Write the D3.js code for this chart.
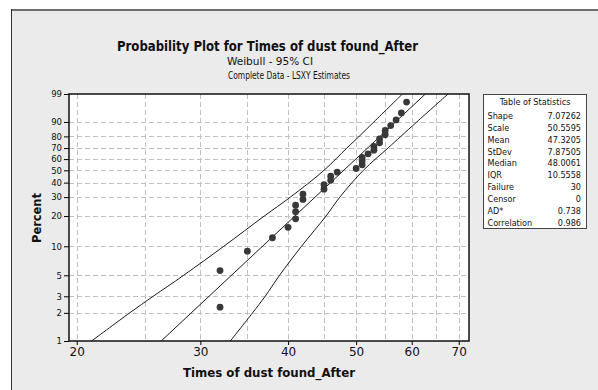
<!DOCTYPE html>
<html>
<head>
<meta charset="utf-8">
<script src="https://cdn.jsdelivr.net/npm/d3@7"></script>
<style>
  body { margin: 0; background: #fff; }
  svg { display: block; }
  .axis path, .axis line { stroke: #000; }
  .ytick text { font-family: "DejaVu Sans"; font-size: 8.5px; fill: #111; }
  .xtick text { font-family: "DejaVu Sans"; font-size: 12px; fill: #111; }
</style>
</head>
<body>
<svg id="chart" width="598" height="390"></svg>
<script>
// Data points (time, median rank percent)
var times = [32, 32, 35, 38, 40, 41, 41, 41, 42, 42, 45, 45, 46, 46, 47,
             50, 51, 51, 51, 52, 53, 53, 54, 54, 55, 55, 56, 57, 58, 59];
var percents = [2.3, 5.6, 8.9, 12.2, 15.5, 18.8, 22.0, 25.3, 28.6, 31.9, 35.2, 38.5, 41.8, 45.1, 48.4,
                51.6, 54.9, 58.2, 61.5, 64.8, 68.1, 71.4, 74.7, 78.0, 81.3, 84.5, 87.8, 91.1, 94.4, 97.7];

// 95% CI bands
var ciPercent = [1, 2, 3, 5, 10, 20, 30, 50, 70, 80, 90, 99];
var ciLower = [21.0, 23.8, 25.7, 28.4, 32.4, 37.0, 40.3, 45.0, 48.5, 50.5, 53.0, 58.2];
var ciUpper = [33.1, 35.6, 37.1, 38.9, 41.8, 45.3, 47.4, 51.2, 55.5, 57.9, 61.0, 67.6];

// Fitted Weibull
var shape = 7.07262, scale = 50.5595;
var fitPercent = [1, 99];

// Axis ticks
var yTicks = [1, 2, 3, 5, 10, 20, 30, 40, 50, 60, 70, 80, 90, 99];
var xTicks = [20, 30, 40, 50, 60, 70];
var xGrid = [20, 25, 30, 35, 40, 45, 50, 55, 60, 65, 70];

// Table of statistics
var statLabels = ["Shape", "Scale", "Mean", "StDev", "Median", "IQR", "Failure", "Censor", "AD*", "Correlation"];
var statValues = ["7.07262", "50.5595", "47.3205", "7.87505", "48.0061", "10.5558", "30", "0", "0.738", "0.986"];

var svg = d3.select("#chart");
var plot = { left: 69, right: 469, top: 94, bottom: 341 };

// weibull probability transform
function w(p) { return Math.log(-Math.log(1 - p / 100)); }

var xScale = d3.scaleLog().domain([19.5, 72.4]).range([plot.left, plot.right]);
var yScale = d3.scaleLinear().domain([w(1), w(99)]).range([plot.bottom, plot.top]);

// Outer frame
svg.append("rect").attr("x", 11).attr("y", 10).attr("width", 600).attr("height", 400)
  .attr("fill", "#ebebeb");
svg.append("line").attr("x1", 11).attr("x2", 598).attr("y1", 10).attr("y2", 10)
  .attr("stroke", "#6e6e6e").attr("stroke-width", 2);
svg.append("line").attr("x1", 11.5).attr("x2", 11.5).attr("y1", 9).attr("y2", 390)
  .attr("stroke", "#333").attr("stroke-width", 1);

// Titles
svg.append("text").attr("x", 117).attr("y", 51)
  .attr("textLength", 301).attr("lengthAdjust", "spacingAndGlyphs")
  .style("font-family", "DejaVu Sans Condensed, DejaVu Sans").style("font-weight", "bold")
  .style("font-size", "14px").style("fill", "#111")
  .text("Probability Plot for Times of dust found_After");
svg.append("text").attr("x", 227).attr("y", 64.5)
  .attr("textLength", 86).attr("lengthAdjust", "spacingAndGlyphs")
  .style("font-family", "DejaVu Sans Condensed, DejaVu Sans").style("font-size", "10px").style("fill", "#111")
  .text("Weibull - 95% CI");
svg.append("text").attr("x", 228).attr("y", 78.5)
  .attr("textLength", 122).attr("lengthAdjust", "spacingAndGlyphs")
  .style("font-family", "DejaVu Sans Condensed, DejaVu Sans").style("font-size", "10px").style("fill", "#111")
  .text("Complete Data - LSXY Estimates");

// Plot background
svg.append("rect").attr("x", plot.left).attr("y", plot.top)
  .attr("width", plot.right - plot.left).attr("height", plot.bottom - plot.top)
  .attr("fill", "#fff");

// Grid lines (dashed)
var grid = svg.append("g").attr("class", "grid");
grid.selectAll("line.gx").data(xGrid).enter().append("line")
  .attr("class", "gx")
  .attr("x1", function(d) { return Math.round(xScale(d)) + 0.5; })
  .attr("x2", function(d) { return Math.round(xScale(d)) + 0.5; })
  .attr("y1", plot.top).attr("y2", plot.bottom);
grid.selectAll("line.gy").data(yTicks.slice(1, -1)).enter().append("line")
  .attr("class", "gy")
  .attr("x1", plot.left).attr("x2", plot.right)
  .attr("y1", function(d) { return Math.round(yScale(w(d))) + 0.5; })
  .attr("y2", function(d) { return Math.round(yScale(w(d))) + 0.5; });
grid.selectAll("line")
  .style("stroke", "#c0c0c0").style("stroke-width", 1).style("stroke-dasharray", "5,3");

// Axes
var yAxis = d3.axisLeft(yScale).tickValues(yTicks.map(w)).tickSize(5).tickPadding(2)
  .tickFormat(function(d, i) { return yTicks[i]; });
svg.append("g").attr("class", "axis ytick")
  .attr("transform", "translate(" + plot.left + ",0)")
  .call(yAxis)
  .call(function(g) { g.select(".domain").remove(); });

var xAxis = d3.axisBottom(xScale).tickValues(xTicks).tickSize(4).tickPadding(2)
  .tickFormat(d3.format("d"));
svg.append("g").attr("class", "axis xtick")
  .attr("transform", "translate(0," + plot.bottom + ")")
  .call(xAxis)
  .call(function(g) { g.select(".domain").remove(); });

// clip for curves
svg.append("clipPath").attr("id", "clip").append("rect")
  .attr("x", plot.left).attr("y", plot.top)
  .attr("width", plot.right - plot.left).attr("height", plot.bottom - plot.top);

var canvas = svg.append("g").attr("clip-path", "url(#clip)");

// CI curves
var ciLine = d3.line().curve(d3.curveCatmullRom)
  .x(function(d) { return xScale(d[0]); })
  .y(function(d) { return yScale(w(d[1])); });
[ciLower, ciUpper].forEach(function(arr) {
  canvas.append("path")
    .datum(arr.map(function(t, i) { return [t, ciPercent[i]]; }))
    .attr("d", ciLine)
    .attr("fill", "none").attr("stroke", "#1a1a1a").attr("stroke-width", 1);
});

// Fitted line
var fitPts = fitPercent.map(function(p) {
  return [scale * Math.pow(-Math.log(1 - p / 100), 1 / shape), p];
});
canvas.append("path").datum(fitPts)
  .attr("d", d3.line().x(function(d) { return xScale(d[0]); }).y(function(d) { return yScale(w(d[1])); }))
  .attr("fill", "none").attr("stroke", "#1a1a1a").attr("stroke-width", 1);

// Points
canvas.selectAll("circle").data(times).enter().append("circle")
  .attr("cx", function(d) { return xScale(d); })
  .attr("cy", function(d, i) { return yScale(w(percents[i])); })
  .attr("r", 3.4)
  .attr("fill", "#383838");

// Plot border
svg.append("rect").attr("x", plot.left).attr("y", plot.top)
  .attr("width", plot.right - plot.left).attr("height", plot.bottom - plot.top)
  .attr("fill", "none").attr("stroke", "#111").attr("stroke-width", 1.5);

// Axis titles
svg.append("text").attr("x", 183).attr("y", 377)
  .attr("textLength", 172).attr("lengthAdjust", "spacingAndGlyphs")
  .style("font-family", "DejaVu Sans Condensed, DejaVu Sans").style("font-weight", "bold")
  .style("font-size", "12.5px").style("fill", "#111")
  .text("Times of dust found_After");
svg.append("text")
  .attr("transform", "translate(41,243) rotate(-90)")
  .attr("textLength", 50).attr("lengthAdjust", "spacingAndGlyphs")
  .style("font-family", "DejaVu Sans Condensed, DejaVu Sans").style("font-weight", "bold")
  .style("font-size", "11.5px").style("fill", "#111")
  .text("Percent");

// Table of Statistics
var tbl = svg.append("g").style("font-family", "DejaVu Sans Condensed, DejaVu Sans")
  .style("font-size", "9px").style("fill", "#111");
tbl.append("rect").attr("x", 483.5).attr("y", 94.5).attr("width", 103).attr("height", 134)
  .attr("fill", "#fff").attr("stroke", "#444").attr("stroke-width", 1);
tbl.append("text").attr("x", 535).attr("y", 104.5).attr("text-anchor", "middle")
  .text("Table of Statistics");
statLabels.forEach(function(lbl, i) {
  var y = 119 + i * 11.84;
  tbl.append("text").attr("x", 487.5).attr("y", y).text(lbl);
  tbl.append("text").attr("x", 581).attr("y", y).attr("text-anchor", "end").text(statValues[i]);
});
</script>
</body>
</html>
